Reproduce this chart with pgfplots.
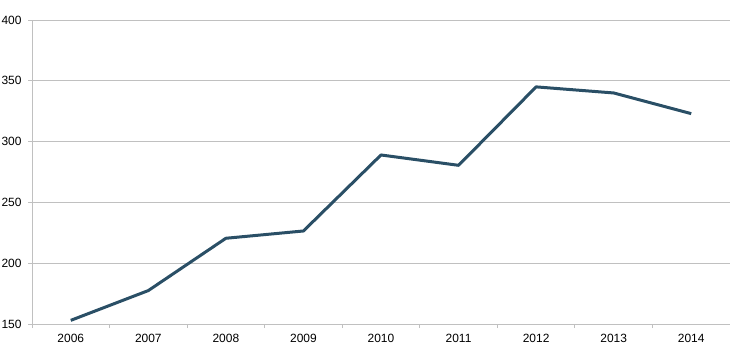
\documentclass[border=0pt]{standalone}
\usepackage{pgfplots}
\pgfplotsset{compat=1.18}
\usepackage{fontspec}
\setmainfont{Liberation Sans}
\definecolor{linec}{HTML}{2A4F66}
\definecolor{gridc}{HTML}{C0C0C0}
\begin{document}
\begin{tikzpicture}
\path[use as bounding box] (-32bp,-40bp) rectangle (698bp,324bp);
\begin{axis}[
  at={(0,0)}, anchor=south west,
  scale only axis, width=698bp, height=304bp,
  xmin=-0.5, xmax=8.5, ymin=150, ymax=400,
  axis x line*=bottom, axis y line*=left,
  axis line style={draw=gridc, line width=1pt},
  xtick={0,...,8},
  xticklabels={2006,2007,2008,2009,2010,2011,2012,2013,2014},
  major x tick style={draw=none},
  minor xtick={-0.5,0.5,...,8.5},
  minor x tick style={draw=gridc, line width=1pt},
  ytick={150,200,...,400},
  ymajorgrids, grid style={draw=gridc, line width=1pt},
  y tick style={draw=gridc, line width=1pt},
  tick align=outside,
  major tick length=4bp, minor tick length=4bp,
  ticklabel style={font=\fontsize{12}{14}\selectfont, text=black},
  xticklabel style={yshift=-3bp},
  yticklabel style={xshift=-3bp},
  /pgf/number format/assume math mode=true,
  clip=false,
]
\addplot[color=linec, line width=3bp, line join=round] coordinates {
(0,153) (1,177.5) (2,220.5) (3,226.5) (4,289) (5,280.5) (6,345) (7,340) (8,323)
};
\end{axis}
\end{tikzpicture}
\end{document}
